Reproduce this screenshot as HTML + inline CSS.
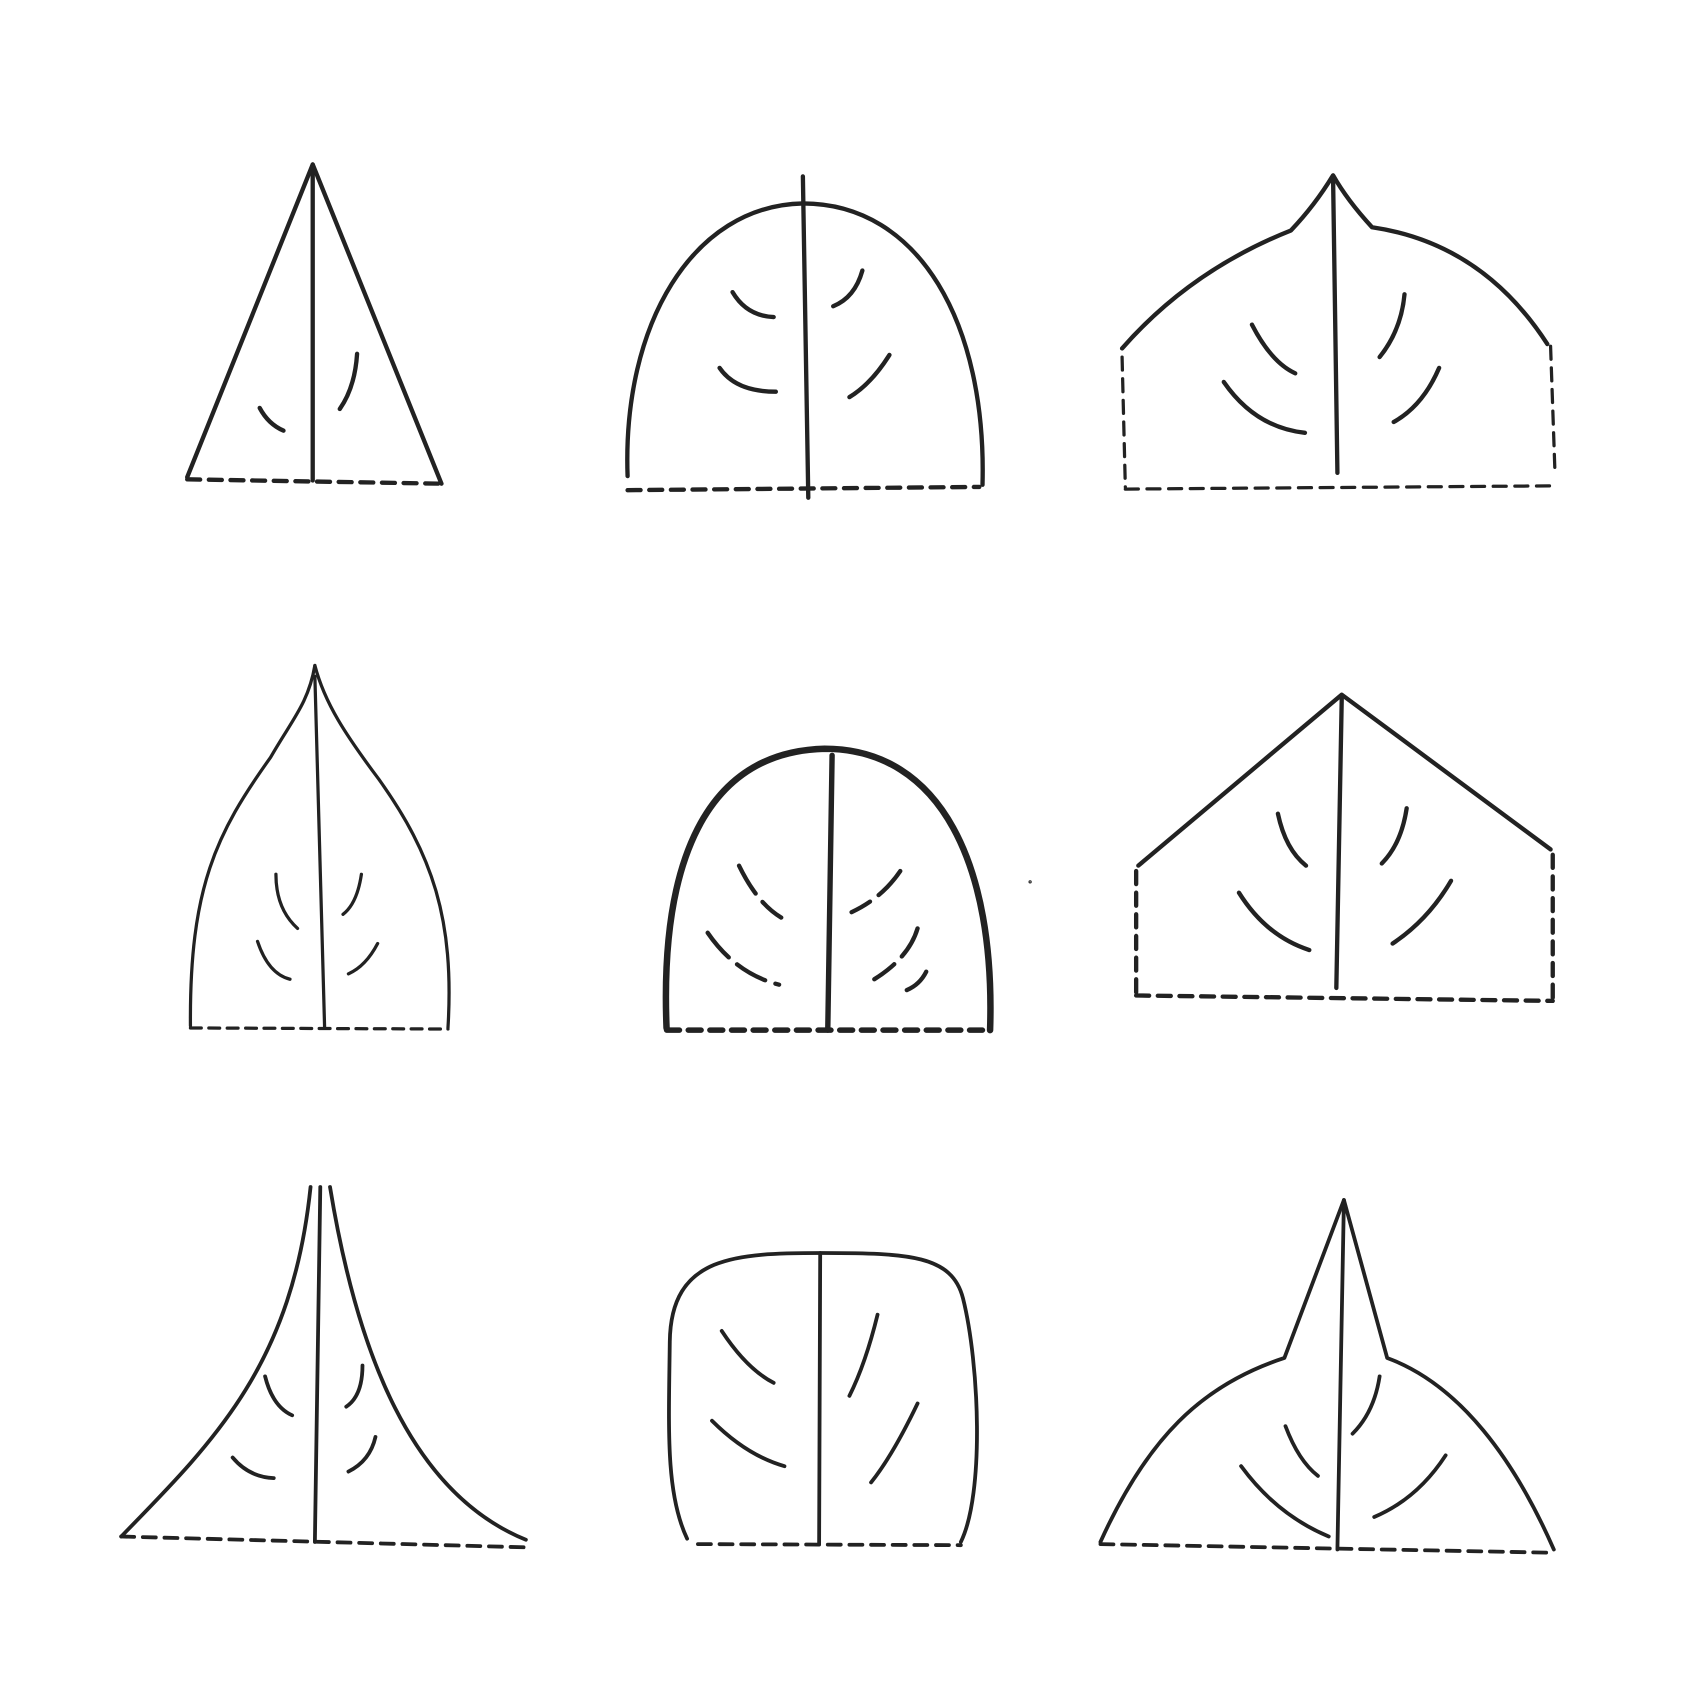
<!DOCTYPE html>
<html><head><meta charset="utf-8"><style>html,body{margin:0;padding:0;background:#fff}svg{display:block}</style></head>
<body>
<svg width="1688" height="1688" viewBox="0 0 1560 1560" xmlns="http://www.w3.org/2000/svg" fill="none" stroke="#222" stroke-width="4" stroke-linecap="round" stroke-linejoin="round">
<rect width="1560" height="1560" fill="#fff" stroke="none"/>
<g>
<path d="M173,441 L289,152 L408,447"/>
<path d="M289,152 L289,444"/>
<path d="M173,443 L408,447" stroke-dasharray="12 8"/>
<path d="M240,377 Q248,392 262,398"/><path d="M330,327 Q328,358 314,378"/>
</g>
<g>
<path d="M580,440 C575,300 640,190 742,188 C850,188 912,300 908,448"/>
<path d="M742,163 L747,460"/>
<path d="M580,453 L905,450" stroke-dasharray="12 8"/>
<path d="M677,270 Q690,292 715,293"/><path d="M665,340 Q680,362 717,362"/>
<path d="M797,250 Q790,275 770,283"/><path d="M822,328 Q805,355 785,367"/>
</g>
<g>
<path d="M1037,322 Q1100,250 1193,213 Q1215,190 1232,162 Q1245,185 1268,210 Q1370,225 1430,318"/>
<path d="M1232,165 L1236,437"/>
<path d="M1037,330 L1040,450 M1433,320 L1437,435 M1040,452 L1437,449" stroke-dasharray="12 8" stroke-width="3"/>
<path d="M1157,300 Q1175,335 1197,345"/><path d="M1131,353 Q1160,395 1206,400"/>
<path d="M1298,272 Q1295,305 1275,330"/><path d="M1330,340 Q1315,375 1288,390"/>
</g>
<g stroke-width="3">
<path d="M291,615 C285,650 270,665 250,700 C200,770 175,820 176,948"/>
<path d="M291,615 C300,650 320,680 350,720 C400,790 420,850 414,950"/>
<path d="M291,625 L300,950"/>
<path d="M176,950 L414,951" stroke-dasharray="10 7"/>
<path d="M255,808 Q255,840 275,858"/><path d="M238,870 Q248,900 268,905"/>
<path d="M334,808 Q330,835 317,845"/><path d="M349,872 Q338,893 322,900"/>
</g>
<g>
<path d="M616,950 C610,800 650,695 762,692 C870,692 920,800 915,952" stroke-width="6"/>
<path d="M769,698 L765,952" stroke-width="5"/>
<path d="M616,952 L912,952" stroke-dasharray="12 8" stroke-width="5"/>
<g stroke-dasharray="30 10">
<path d="M683,800 Q700,835 722,848"/><path d="M654,862 Q680,900 720,910"/>
<path d="M832,805 Q815,830 787,843"/><path d="M848,858 Q840,885 808,905"/><path d="M856,898 Q850,910 838,915"/>
</g>
<circle cx="952" cy="815" r="1" stroke-width="1"/>
</g>
<g>
<path d="M1052,800 L1240,642 L1433,785"/>
<path d="M1240,645 L1235,913"/>
<path d="M1050,805 L1050,918 M1435,790 L1435,925 M1050,920 L1435,925" stroke-dasharray="12 8"/>
<path d="M1181,752 Q1188,785 1207,800"/><path d="M1145,825 Q1170,865 1210,878"/>
<path d="M1300,747 Q1295,780 1277,798"/><path d="M1341,814 Q1320,850 1287,872"/>
</g>
<g stroke-width="3.5">
<path d="M112,1420 C200,1330 270,1260 287,1097"/>
<path d="M305,1097 C330,1250 380,1380 486,1423"/>
<path d="M296,1097 L291,1425"/>
<path d="M112,1420 L486,1430" stroke-dasharray="12 8"/>
<path d="M245,1272 Q252,1300 270,1308"/><path d="M215,1347 Q230,1365 253,1366"/>
<path d="M335,1262 Q335,1290 320,1300"/><path d="M347,1328 Q342,1350 322,1360"/>
</g>
<g stroke-width="3.5">
<path d="M635,1422 C615,1380 618,1320 619,1240 C620,1160 680,1158 760,1158 C840,1158 880,1160 890,1200 C905,1260 910,1380 888,1425"/>
<path d="M758,1158 L757,1427"/>
<path d="M645,1427 L888,1428" stroke-dasharray="12 8"/>
<path d="M667,1230 Q690,1265 715,1278"/><path d="M658,1313 Q690,1345 725,1355"/>
<path d="M811,1215 Q800,1260 785,1290"/><path d="M848,1297 Q825,1345 805,1370"/>
</g>
<g stroke-width="3.5">
<path d="M1017,1425 C1060,1330 1110,1280 1187,1255 L1242,1109 L1282,1255 C1350,1280 1400,1350 1436,1432"/>
<path d="M1242,1109 L1236,1432"/>
<path d="M1017,1427 L1436,1435" stroke-dasharray="12 8"/>
<path d="M1188,1318 Q1200,1350 1218,1364"/><path d="M1147,1355 Q1180,1400 1228,1420"/>
<path d="M1275,1272 Q1270,1305 1250,1325"/><path d="M1336,1345 Q1310,1385 1270,1402"/>
</g>
</svg>
</body></html>
